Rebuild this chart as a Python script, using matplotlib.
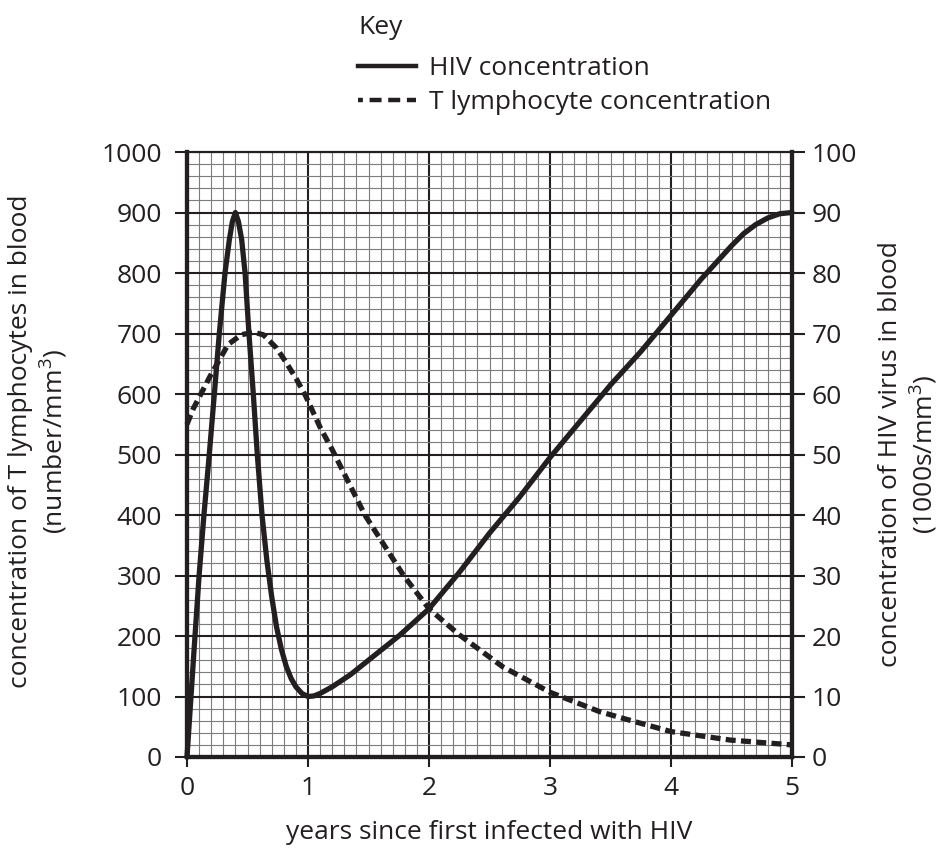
import matplotlib
matplotlib.use('Agg')
import matplotlib.pyplot as plt
from matplotlib.lines import Line2D
from matplotlib.ticker import MultipleLocator

# years since infection and readings taken off the chart
hiv_years = [0.0, 0.033, 0.066, 0.10, 0.14, 0.184, 0.226, 0.267, 0.314, 0.35, 0.375,
             0.40, 0.425, 0.452, 0.48, 0.512, 0.548, 0.581, 0.62, 0.66, 0.70, 0.74,
             0.78, 0.82, 0.86, 0.90, 0.95, 1.0, 1.05, 1.1, 1.2, 1.35, 1.5, 1.75, 2.0,
             2.25, 2.5, 2.75, 3.0, 3.25, 3.5, 3.75, 4.0, 4.25, 4.4, 4.5, 4.6, 4.7,
             4.8, 4.9, 5.0]
# HIV concentration, 1000s/mm3 (right axis)
hiv_conc = [0, 10, 20, 30, 40, 50, 60, 70, 80, 85.5, 88.5,
            90, 88.5, 85.5, 80, 70, 60, 50, 40, 32.5, 26.5, 21.5,
            17.8, 15, 13, 11.6, 10.5, 10, 10.1, 10.5, 11.6, 13.6, 16, 20, 24.5,
            30.5, 37, 43, 49.5, 55.5, 61.5, 67, 73, 79, 82.3, 84.5, 86.5, 88,
            89.1, 89.8, 90]

t_years = [0.0, 0.05, 0.12, 0.19, 0.286, 0.34, 0.45, 0.55, 0.63, 0.74, 0.82, 0.906,
           0.98, 1.1, 1.2, 1.3, 1.47, 1.79, 2.0, 2.25, 2.61, 3.0, 3.41, 3.69,
           4.0, 4.49, 5.0]
# T lymphocytes, number/mm3 (left axis)
t_conc = [550, 575, 602, 629, 663, 682, 698, 702, 698, 676, 652, 624,
          597, 545, 508, 468, 400, 300, 245, 202, 149, 107, 75, 59,
          42, 28, 20]

left_ticks = list(range(0, 1001, 100))
right_ticks = list(range(0, 101, 10))
x_ticks = [0, 1, 2, 3, 4, 5]

ink = '#231f20'
fs = 19

plt.rcParams['font.family'] = ['Open Sans', 'DejaVu Sans']
plt.rcParams['mathtext.fontset'] = 'custom'
plt.rcParams['mathtext.rm'] = 'Open Sans'

fig = plt.figure(figsize=(9.47, 8.48), dpi=100)
ax = fig.add_axes([187 / 947, 1 - 757 / 848, 605 / 947, 605 / 848])
ax2 = ax.twinx()

ax.set_xlim(0, 5)
ax.set_ylim(0, 1000)
ax2.set_ylim(0, 100)

ax.xaxis.set_major_locator(MultipleLocator(1))
ax.xaxis.set_minor_locator(MultipleLocator(0.1))
ax.yaxis.set_major_locator(MultipleLocator(100))
ax.yaxis.set_minor_locator(MultipleLocator(20))
ax.grid(which='minor', color='#7c7c7c', linewidth=0.8)
ax.grid(which='major', color=ink, linewidth=1.5)
ax.set_axisbelow(True)

ax.set_xticks(x_ticks)
ax.set_yticks(left_ticks)
ax2.set_yticks(right_ticks)
ax.tick_params(which='minor', length=0)
ax.tick_params(axis='y', which='major', length=9, width=1.5, color=ink,
               labelsize=fs, pad=9, labelcolor=ink)
ax.tick_params(axis='x', which='major', length=7.5, width=1.5, color=ink,
               labelsize=fs, pad=6, labelcolor=ink)
ax2.tick_params(axis='y', length=9, width=1.5, color=ink, labelsize=fs,
                pad=5, labelcolor=ink)

for a in (ax, ax2):
    a.spines['top'].set_linewidth(1.5)
    a.spines['top'].set_color(ink)
    for s in ('left', 'right', 'bottom'):
        a.spines[s].set_linewidth(3)
        a.spines[s].set_color(ink)

ax2.plot(hiv_years, hiv_conc, color=ink, linewidth=3.8,
         solid_joinstyle='round', solid_capstyle='round', clip_on=False)
ax.plot(t_years, t_conc, color=ink, linewidth=3.8,
        linestyle=(0, (1.9, 1.0)), dash_capstyle='butt', clip_on=False)

ax.set_xlabel('years since first infected with HIV', fontsize=fs,
              color=ink, labelpad=14)
ax.set_ylabel('concentration of T lymphocytes in blood\n(number/mm$^3$)',
              fontsize=fs, color=ink, linespacing=1.15, va='center', ha='center')
ax.yaxis.set_label_coords(-0.245, 0.522)
ax2.set_ylabel('concentration of HIV virus in blood\n(1000s/mm$^3$)',
               fontsize=fs, color=ink, linespacing=1.15, rotation=90,
               va='center', ha='center')
ax2.yaxis.set_label_coords(1.193, 0.5)

fig.text(358 / 947, 1 - 28 / 848, 'Key', fontsize=fs, color=ink,
         ha='left', va='center')

handles = [Line2D([], [], color=ink, linewidth=3.2),
           Line2D([], [], color=ink, linewidth=3.2,
                  linestyle=(1.6, (2.7, 1.5)), dash_capstyle='butt')]
leg = fig.legend(handles, ['HIV concentration', 'T lymphocyte concentration'],
                 loc='upper left', bbox_to_anchor=(358 / 947, 1 - 56 / 848),
                 frameon=False, fontsize=fs,
                 handlelength=2.2, handletextpad=0.5, labelspacing=0.35,
                 borderaxespad=0, borderpad=0)
for txt in leg.get_texts():
    txt.set_color(ink)

fig.savefig('out.png', dpi=100)
